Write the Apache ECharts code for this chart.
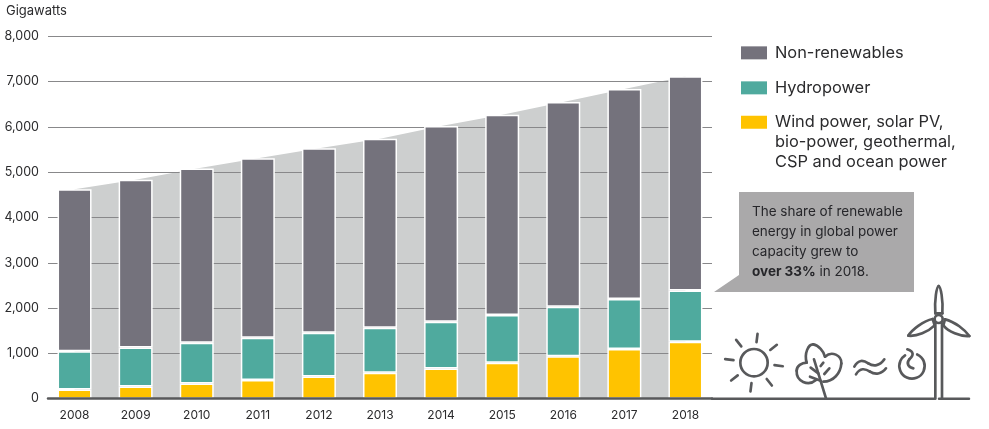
<!DOCTYPE html>
<html>
<head>
<meta charset="utf-8">
<style>html,body{margin:0;padding:0;background:#fff}#main{width:989px;height:429px}</style>
<script src="https://cdn.jsdelivr.net/npm/echarts@6/dist/echarts.min.js"></script>
</head>
<body>
<div id="main"></div>
<script>
const years = ['2008','2009','2010','2011','2012','2013','2014','2015','2016','2017','2018'];
const windSolarOther = [205,270,335,415,490,575,665,795,935,1095,1255];
const hydropower = [840,860,900,930,965,990,1035,1055,1095,1105,1135];
const nonRenewables = [3580,3705,3845,3965,4075,4175,4320,4420,4520,4635,4730];
const totals = years.map((y, i) => windSolarOther[i] + hydropower[i] + nonRenewables[i]);
const valueTicks = [0,1000,2000,3000,4000,5000,6000,7000,8000];

const WIND_NAME = 'Wind power, solar PV,\nbio-power, geothermal,\nCSP and ocean power';
const FONT = 'Inter, "Noto Sans", sans-serif';
const INK = '#2b2b2d';
const ICON = '#58595b';

const myChart = echarts.init(document.getElementById('main'));

// icon helpers, coordinates are in zoomed px, the groups scale them back down
const iconStyle = { stroke: ICON, lineWidth: 8, fill: null, lineCap: 'round' };
function ln(x1, y1, x2, y2, width) {
    return { type: 'line', shape: { x1, y1, x2, y2 }, style: { ...iconStyle, lineWidth: width || 8 } };
}
function bz(x1, y1, cpx1, cpy1, cpx2, cpy2, x2, y2) {
    return { type: 'bezierCurve', shape: { x1, y1, cpx1, cpy1, cpx2, cpy2, x2, y2 }, style: iconStyle };
}
function group(x, y, children) {
    return { type: 'group', x, y, scaleX: 1 / 3, scaleY: 1 / 3, silent: true, children };
}

const sunRays = [];
for (let k = 0; k < 8; k++) {
    const a = (7 + 45 * k) * Math.PI / 180;
    sunRays.push(ln(162 + 62 * Math.cos(a), 578 + 62 * Math.sin(a), 162 + 87 * Math.cos(a), 578 + 87 * Math.sin(a)));
}

const sun = group(700, 170, [
    { type: 'circle', shape: { cx: 162, cy: 578, r: 41 }, style: iconStyle },
    ...sunRays
]);

const leaf = group(790, 330, [
    bz(78,150, 55,170, 18,155, 20,122),
    bz(20,122, 20,108, 35,98, 50,98),
    bz(50,98, 42,70, 55,42, 70,43),
    bz(70,43, 85,45, 102,65, 105,80),
    bz(105,80, 125,62, 155,75, 154,100),
    bz(154,100, 152,130, 130,155, 100,155),
    ln(108,205, 72,88),
    ln(85,130, 62,113),
    ln(92,152, 60,140),
    ln(118,115, 103,132),
    ln(100,98, 92,108)
]);

const waves = group(850, 340, [
    bz(13,80, 25,58, 40,60, 55,70),
    bz(55,70, 70,80, 90,78, 103,58),
    bz(18,103, 30,83, 45,85, 60,95),
    bz(60,95, 75,105, 95,103, 108,85)
]);

const power = group(850, 340, [
    { type: 'arc', shape: { cx: 186, cy: 78, r: 38, startAngle: -1.15, endAngle: -2.15, clockwise: true }, style: iconStyle },
    bz(172,28, 192,35, 192,45, 178,58),
    bz(178,58, 168,70, 175,82, 190,85)
]);

const turbine = group(900, 280, [
    ln(106,130, 106,356),
    ln(126,130, 126,356),
    { type: 'circle', shape: { cx: 116, cy: 117, r: 12 }, style: iconStyle },
    bz(106,100, 103,60, 110,20, 116,18),
    bz(116,18, 122,20, 130,60, 127,100),
    ln(106,100, 127,100),
    bz(98,117, 70,122, 35,150, 25,167),
    bz(25,167, 50,170, 85,155, 104,136),
    ln(98,117, 104,136),
    bz(135,118, 165,125, 195,150, 208,168),
    bz(208,168, 180,170, 145,155, 130,136),
    ln(135,118, 130,136)
]);

const ground = group(700, 170, [
    ln(36,686, 703,686, 7.5),
    ln(717,686, 807,686, 7.5)
]);

const callout = {
    type: 'polygon',
    silent: true,
    shape: { points: [[739,192],[914,192],[914,292],[714,292],[739,275]] },
    style: { fill: '#aaa9aa' }
};
const calloutText = {
    type: 'text',
    silent: true,
    x: 752,
    y: 202,
    style: {
        text: 'The share of renewable\nenergy in global power\ncapacity grew to\n{b|over 33%} in 2018.',
        font: '13.5px ' + FONT,
        fill: '#26262a',
        lineHeight: 20,
        rich: { b: { fontWeight: 'bold', fontFamily: 'Inter', fontSize: 13.5, lineHeight: 20 } }
    }
};

function legendAt(name, top, formatter) {
    return {
        left: 741,
        top,
        orient: 'vertical',
        padding: 0,
        itemWidth: 26,
        itemHeight: 13,
        itemGap: 0,
        selectedMode: false,
        data: [{ name, icon: 'rect' }],
        itemStyle: { borderWidth: 0 },
        formatter,
        textStyle: { fontFamily: FONT, fontSize: 16.4, color: INK, lineHeight: 19.7, padding: [0, 0, 0, 3] }
    };
}

function barSeries(name, data, color) {
    return {
        name,
        type: 'bar',
        stack: 'capacity',
        xAxisIndex: 1,
        yAxisIndex: 1,
        z: 3,
        barWidth: 34,
        data,
        itemStyle: { color, borderColor: '#fff', borderWidth: 1.5 }
    };
}

myChart.setOption({
    animation: false,
    backgroundColor: '#fff',
    title: {
        text: 'Gigawatts',
        left: 6,
        top: 5,
        padding: 0,
        textStyle: { fontFamily: FONT, fontSize: 13, fontWeight: 'normal', color: INK }
    },
    legend: [
        legendAt('Non-renewables', 43),
        legendAt('Hydropower', 78),
        legendAt(WIND_NAME, 73, name => '\n\n' + name)
    ],
    grid: [
        { left: 48, top: 36.3, width: 664, height: 362.4 },
        { left: 44, top: 36.3, width: 672, height: 362.4 }
    ],
    xAxis: [
        {
            gridIndex: 0,
            type: 'category',
            data: years,
            z: 4,
            axisLine: { lineStyle: { color: ICON, width: 2.5 } },
            axisTick: { show: false },
            axisLabel: { show: false }
        },
        {
            gridIndex: 1,
            type: 'category',
            data: years,
            axisLine: { show: false },
            axisTick: { show: false },
            axisLabel: { margin: 11, fontFamily: FONT, fontSize: 12, color: INK }
        }
    ],
    yAxis: [
        {
            gridIndex: 0,
            type: 'value',
            min: 0,
            max: 8000,
            interval: 1000,
            z: 2,
            axisLine: { show: false },
            axisTick: { show: false },
            axisLabel: {
                margin: 9,
                padding: [2, 0, 0, 0],
                fontFamily: FONT,
                fontSize: 12.5,
                color: INK,
                formatter: v => valueTicks.includes(v) ? v.toLocaleString('en-US') : ''
            },
            splitLine: { lineStyle: { color: '#88888a', width: 1 } }
        },
        {
            gridIndex: 1,
            type: 'value',
            min: 0,
            max: 8000,
            show: false,
            splitLine: { show: false }
        }
    ],
    series: [
        {
            name: 'Total',
            type: 'line',
            xAxisIndex: 1,
            yAxisIndex: 1,
            z: 1,
            data: totals,
            symbol: 'none',
            lineStyle: { width: 0 },
            areaStyle: { color: '#cdcfcf', opacity: 1 }
        },
        barSeries(WIND_NAME, windSolarOther, '#ffc300'),
        barSeries('Hydropower', hydropower, '#4faa9e'),
        barSeries('Non-renewables', nonRenewables, '#74727c')
    ],
    graphic: { elements: [callout, calloutText, ground, sun, leaf, waves, power, turbine] }
});
</script>
</body>
</html>
